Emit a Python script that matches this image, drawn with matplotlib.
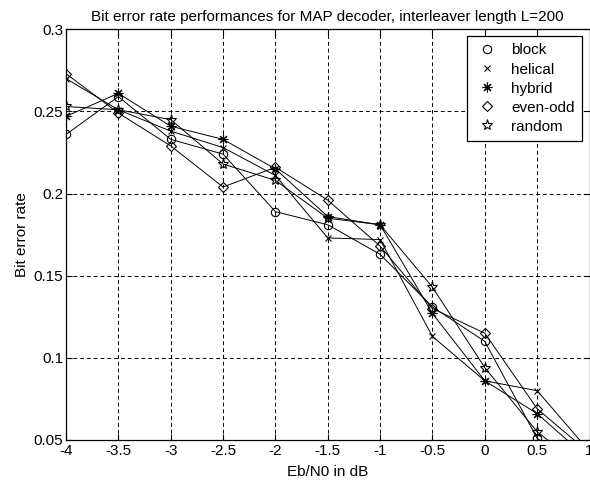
import matplotlib
matplotlib.use("Agg")
import matplotlib.pyplot as plt
from matplotlib.lines import Line2D

# Eb/N0 values (dB) and bit error rates per interleaver
ebn0 = [-4, -3.5, -3, -2.5, -2, -1.5, -1, -0.5, 0, 0.5, 1]
block = [0.236, 0.259, 0.233, 0.224, 0.189, 0.181, 0.163, 0.131, 0.110, 0.051, 0.030]
helical = [0.270, 0.251, 0.238, 0.228, 0.211, 0.173, 0.172, 0.113, 0.086, 0.080, 0.043]
hybrid = [0.247, 0.261, 0.241, 0.233, 0.215, 0.186, 0.181, 0.127, 0.086, 0.066, 0.038]
even_odd = [0.273, 0.249, 0.229, 0.204, 0.216, 0.196, 0.168, 0.130, 0.115, 0.069, 0.042]
random_il = [0.253, 0.251, 0.245, 0.218, 0.208, 0.185, 0.181, 0.143, 0.094, 0.055, 0.030]

labels = ["block", "helical", "hybrid", "even-odd", "random"]
series = [block, helical, hybrid, even_odd, random_il]
markers = ["o", "x", (8, 2, 0), "D", "*"]
msizes = [6, 5, 7, 5, 8]

xticks = [-4, -3.5, -3, -2.5, -2, -1.5, -1, -0.5, 0, 0.5, 1]
xticklabels = ["-4", "-3.5", "-3", "-2.5", "-2", "-1.5", "-1", "-0.5", "0", "0.5", "1"]
yticks = [0.05, 0.1, 0.15, 0.2, 0.25, 0.3]
yticklabels = ["0.05", "0.1", "0.15", "0.2", "0.25", "0.3"]

plt.rcParams["font.family"] = ["Liberation Sans", "DejaVu Sans"]
plt.rcParams["font.size"] = 11

fig = plt.figure(figsize=(5.9, 4.88), dpi=100)
ax = fig.add_axes([0.1119, 0.0984, 0.8873, 0.8416])

for vals, m, ms in zip(series, markers, msizes):
    ax.plot(ebn0, vals, color="black", lw=0.7, marker=m, markersize=ms,
            markerfacecolor="none", markeredgecolor="black", markeredgewidth=0.8)

ax.set_xlim(-4, 1)
ax.set_ylim(0.05, 0.3)
ax.set_xticks(xticks)
ax.set_xticklabels(xticklabels)
ax.set_yticks(yticks)
ax.set_yticklabels(yticklabels)
ax.tick_params(direction="in", length=4, top=True, right=True, width=0.8,
               labelsize=11, pad=3)
ax.tick_params(axis="y", pad=2)
ax.grid(True, color="black", linestyle=(0, (4, 3)), linewidth=0.7)
for sp in ax.spines.values():
    sp.set_linewidth(0.9)

ax.set_title("Bit error rate performances for MAP decoder, interleaver length L=200",
             fontsize=11, pad=6)
ax.set_xlabel("Eb/N0 in dB", fontsize=11, labelpad=5)
ax.set_ylabel("Bit error rate", fontsize=11, labelpad=3)

# marker-only legend entries
handles = [Line2D([], [], color="black", linestyle="none", marker=m, markersize=ms,
                  markerfacecolor="none", markeredgewidth=0.8)
           for m, ms in zip(markers, msizes)]
leg = ax.legend(handles, labels, loc="upper right", bbox_to_anchor=(0.986, 0.984),
                borderaxespad=0, fancybox=False, framealpha=1, edgecolor="black",
                handlelength=1.6, handletextpad=0.8, labelspacing=0.33,
                borderpad=0.5, fontsize=11)
leg.get_frame().set_linewidth(0.9)

fig.savefig("out.png", dpi=100, facecolor="white")
